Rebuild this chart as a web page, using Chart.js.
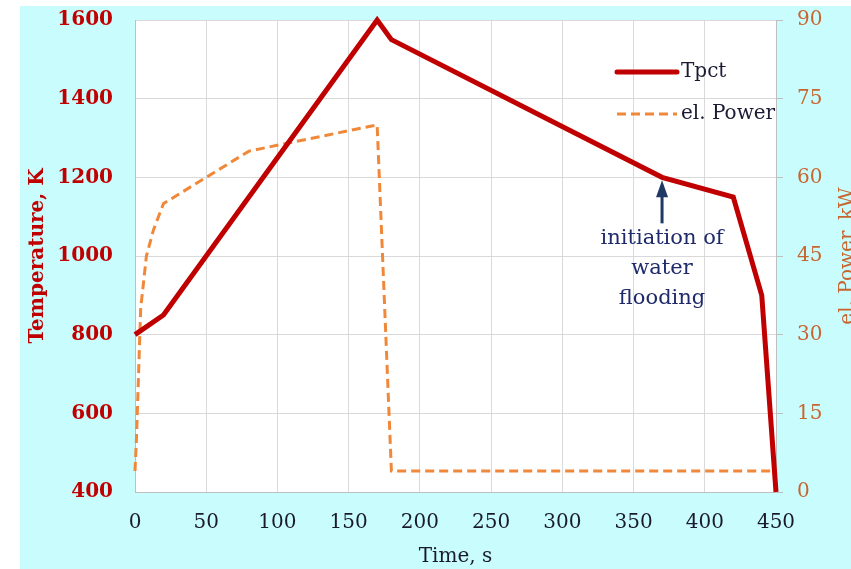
<!DOCTYPE html>
<html>
<head>
<meta charset="utf-8">
<script src="https://cdn.jsdelivr.net/npm/chart.js@4.4.1/dist/chart.umd.min.js"></script>
<style>
    html, body { margin: 0; padding: 0; background: #ffffff; overflow: hidden; }
    #panel { position: absolute; left: 20px; top: 6px; right: 0; bottom: 0; background: #c9fdfd; }
    #wrap { position: absolute; left: 0; top: -14px; width: 851px; height: 583px; }
</style>
</head>
<body>
<div id="panel"></div>
<div id="wrap"><canvas id="chart-canvas" width="851" height="583"></canvas></div>
<script>
// data
var timeTemp = [0, 20, 170, 180, 370, 420, 440, 450];
var tempValues = [800, 850, 1600, 1550, 1200, 1150, 900, 400];

var timePower = [0, 1, 4, 8, 13, 20, 50, 80, 170, 180, 450];
var powerValues = [4, 10, 35, 45, 50, 55, 60, 65, 70, 4, 4];

var timeTicks = [0, 50, 100, 150, 200, 250, 300, 350, 400, 450];
var tempTicks = [400, 600, 800, 1000, 1200, 1400, 1600];
var powerTicks = [0, 15, 30, 45, 60, 75, 90];

var seriesNames = ['Tpct', 'el. Power'];
var noteLines = ['initiation of', 'water', 'flooding'];
var noteAt = { x: 370, y: 1200 };

var serif = "'DejaVu Serif', serif";
var redColor = '#c00000';
var orangeColor = '#f0883a';
var orangeText = '#c8652f';
var navy = '#1f2a6b';
var gridColor = '#d9d9d9';

// canvas is shifted up by this much so the plot top lands at y=20
var shiftY = 14;

function toPoints(xs, ys) {
    var pts = [];
    for (var i = 0; i < xs.length; i++) {
        pts.push({ x: xs[i], y: ys[i] });
    }
    return pts;
}

function plainLabel(v) {
    return String(v);
}

var plotBackground = {
    id: 'plotBackground',
    beforeDraw: function (chart) {
        var a = chart.chartArea;
        var ctx = chart.ctx;
        ctx.save();
        ctx.fillStyle = '#ffffff';
        ctx.fillRect(a.left, a.top, a.right - a.left, a.bottom - a.top);
        ctx.restore();
    }
};

var extras = {
    id: 'extras',
    afterDraw: function (chart) {
        var ctx = chart.ctx;
        var xs = chart.scales.x;
        var yT = chart.scales.yTemp;
        ctx.save();

        // legend inside the plot
        var lx = 617, lw = 60;
        var l1 = 72 + shiftY, l2 = 114 + shiftY;
        ctx.lineCap = 'round';
        ctx.strokeStyle = redColor;
        ctx.lineWidth = 5;
        ctx.beginPath(); ctx.moveTo(lx, l1); ctx.lineTo(lx + lw, l1); ctx.stroke();
        ctx.strokeStyle = orangeColor;
        ctx.lineWidth = 3;
        ctx.lineCap = 'butt';
        ctx.setLineDash([9, 5]);
        ctx.beginPath(); ctx.moveTo(lx, l2); ctx.lineTo(lx + lw, l2); ctx.stroke();
        ctx.setLineDash([]);
        ctx.fillStyle = '#1a1a33';
        ctx.font = '20px ' + serif;
        ctx.textAlign = 'left';
        ctx.textBaseline = 'middle';
        ctx.fillText(seriesNames[0], lx + lw + 4, l1);
        ctx.fillText(seriesNames[1], lx + lw + 4, l2);

        // annotation arrow and text
        var ax = xs.getPixelForValue(noteAt.x);
        var ay = yT.getPixelForValue(noteAt.y) + 3;
        ctx.strokeStyle = '#1f3864';
        ctx.fillStyle = '#1f3864';
        ctx.lineWidth = 3;
        ctx.beginPath(); ctx.moveTo(ax, ay + 12); ctx.lineTo(ax, ay + 43); ctx.stroke();
        ctx.beginPath();
        ctx.moveTo(ax, ay);
        ctx.lineTo(ax - 6, ay + 17);
        ctx.lineTo(ax + 6, ay + 17);
        ctx.closePath();
        ctx.fill();

        ctx.fillStyle = navy;
        ctx.font = '21px ' + serif;
        ctx.textAlign = 'center';
        for (var i = 0; i < noteLines.length; i++) {
            ctx.fillText(noteLines[i], ax, ay + 58 + i * 30);
        }

        // right axis title, reading bottom to top
        var a = chart.chartArea;
        ctx.translate(848, (a.top + a.bottom) / 2);
        ctx.rotate(-Math.PI / 2);
        ctx.fillStyle = orangeText;
        ctx.font = '20px ' + serif;
        ctx.textAlign = 'center';
        ctx.textBaseline = 'middle';
        ctx.fillText('el. Power, kW', 0, 0);
        ctx.restore();
    }
};

var config = {
    type: 'line',
    data: {
        datasets: [{
            label: seriesNames[0],
            data: toPoints(timeTemp, tempValues),
            yAxisID: 'yTemp',
            borderColor: redColor,
            borderWidth: 5,
            pointRadius: 0,
            tension: 0,
            clip: false
        }, {
            label: seriesNames[1],
            data: toPoints(timePower, powerValues),
            yAxisID: 'yPower',
            borderColor: orangeColor,
            borderWidth: 3,
            borderDash: [9, 5],
            pointRadius: 0,
            tension: 0,
            clip: false
        }]
    },
    options: {
        responsive: false,
        animation: false,
        layout: { padding: { top: 6, left: 20, right: 0, bottom: 0 } },
        plugins: {
            legend: { display: false },
            tooltip: { enabled: false }
        },
        scales: {
            x: {
                type: 'linear',
                min: 0,
                max: 450,
                afterBuildTicks: function (s) { s.ticks = timeTicks.map(function (v) { return { value: v }; }); },
                afterFit: function (s) { s.height = 77; },
                grid: { color: gridColor, drawTicks: false },
                border: { color: '#bfbfbf' },
                ticks: { padding: 19, color: '#1a1a2e', font: { family: serif, size: 20 }, callback: plainLabel },
                title: {
                    display: true,
                    text: 'Time, s',
                    color: '#1a1a2e',
                    font: { family: serif, size: 20 },
                    padding: { top: 0, bottom: 0 }
                }
            },
            yTemp: {
                position: 'left',
                min: 400,
                max: 1600,
                afterBuildTicks: function (s) { s.ticks = tempTicks.map(function (v) { return { value: v }; }); },
                afterFit: function (s) { s.width = 115; },
                grid: { color: gridColor, drawTicks: false },
                border: { color: '#bfbfbf' },
                ticks: { padding: 22, color: redColor, font: { family: serif, size: 20, weight: 'bold' }, callback: plainLabel },
                title: {
                    display: true,
                    text: 'Temperature, K',
                    color: redColor,
                    font: { family: serif, size: 20, weight: 'bold' },
                    padding: { top: 6, bottom: 0 }
                }
            },
            yPower: {
                position: 'right',
                min: 0,
                max: 90,
                afterBuildTicks: function (s) { s.ticks = powerTicks.map(function (v) { return { value: v }; }); },
                afterFit: function (s) { s.width = 75; },
                grid: { drawOnChartArea: false, color: '#bfbfbf', tickLength: 7 },
                border: { color: '#bfbfbf' },
                ticks: { padding: 14, color: orangeText, font: { family: serif, size: 20 }, callback: plainLabel }
            }
        }
    },
    plugins: [plotBackground, extras]
};

var ctx = document.getElementById('chart-canvas').getContext('2d');
window.myChart = new Chart(ctx, config);
</script>
</body>
</html>
